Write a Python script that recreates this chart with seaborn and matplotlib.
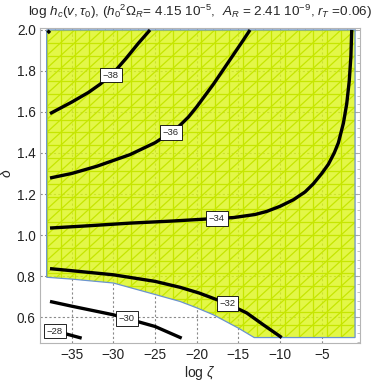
import numpy as np
import pandas as pd
import matplotlib
matplotlib.use("Agg")
import matplotlib.pyplot as plt
import seaborn as sns
from matplotlib.patches import Polygon
from matplotlib.collections import LineCollection

# contour lines of log h_c (log zeta, delta)
lev_m40_x = [-37.9, -37.6]
lev_m40_y = [1.997, 1.985]
lev_m38_x = [-37.6, -35.0, -33.0, -31.6, -30.0, -28.5, -27.0, -25.6]
lev_m38_y = [1.592, 1.648, 1.695, 1.735, 1.790, 1.860, 1.935, 2.000]
lev_m36_x = [-37.6, -35.0, -32.0, -28.0, -25.0, -23.1, -22.0, -21.0, -20.0, -18.0, -16.0,
             -14.5, -13.6]
lev_m36_y = [1.278, 1.300, 1.335, 1.392, 1.450, 1.500, 1.535, 1.575, 1.625, 1.735, 1.855,
             1.945, 2.000]
lev_m34_x = [-37.6, -33.0, -28.0, -23.0, -18.8, -15.6, -13.0, -11.6, -10.0, -8.4, -7.0,
             -6.0, -5.0, -4.2, -3.5, -3.0, -2.4, -2.0, -1.7, -1.5, -1.4]
lev_m34_y = [1.034, 1.045, 1.058, 1.068, 1.078, 1.085, 1.100, 1.115, 1.140, 1.172, 1.210,
             1.250, 1.300, 1.345, 1.400, 1.450, 1.545, 1.640, 1.750, 1.870, 2.000]
lev_m32_x = [-37.6, -35.0, -30.0, -25.0, -22.0, -19.7, -16.3, -14.0, -12.0, -9.8]
lev_m32_y = [0.836, 0.826, 0.806, 0.774, 0.745, 0.717, 0.665, 0.620, 0.562, 0.500]
lev_m30_x = [-37.6, -35.0, -30.0, -25.0, -21.8]
lev_m30_y = [0.676, 0.653, 0.611, 0.554, 0.497]
lev_m28_x = [-37.6, -36.5, -35.8, -33.8]
lev_m28_y = [0.535, 0.528, 0.519, 0.497]

levels = [-40, -38, -36, -34, -32, -30, -28]
label_x = [None, -30.3, -23.1, -17.6, -16.3, -28.4, -37.0]

# allowed region boundary
region_x = [-38.0, -1.0, -1.0, -13.1, -15.0, -18.0, -20.0, -22.0, -25.0, -30.0, -35.0, -38.0]
region_y = [2.0, 2.0, 0.5, 0.5, 0.546, 0.611, 0.645, 0.676, 0.710, 0.766, 0.785, 0.794]

xs_all = [lev_m40_x, lev_m38_x, lev_m36_x, lev_m34_x, lev_m32_x, lev_m30_x, lev_m28_x]
ys_all = [lev_m40_y, lev_m38_y, lev_m36_y, lev_m34_y, lev_m32_y, lev_m30_y, lev_m28_y]
rows = []
for lev, xx, yy in zip(levels, xs_all, ys_all):
    for i, (a, b) in enumerate(zip(xx, yy)):
        rows.append({"level": lev, "i": i, "logzeta": a, "delta": b})
df = pd.DataFrame(rows)

sns.set_style("white")
plt.rcParams["font.family"] = ["Liberation Sans", "DejaVu Sans"]
plt.rcParams["mathtext.fontset"] = "custom"
plt.rcParams["mathtext.rm"] = "Liberation Sans"
plt.rcParams["mathtext.it"] = "Liberation Sans:italic"

fig = plt.figure(figsize=(3.81, 3.82), dpi=100)
ax = fig.add_axes([0.105, 0.1008, 0.8407, 0.8251])

# grid
for gx in np.arange(-35, 0, 5):
    ax.axvline(gx, color="#8a8a8a", lw=0.8, ls=(0, (2, 2)), zorder=0.5)
for gy in np.arange(0.6, 2.01, 0.2):
    ax.axhline(gy, color="#8a8a8a", lw=0.8, ls=(0, (2, 2)), zorder=0.5)

# region fill
poly = Polygon(np.column_stack([region_x, region_y]), closed=True,
               facecolor="#dcf61a", alpha=0.8, edgecolor="none", zorder=1)
ax.add_patch(poly)

# triangle mesh texture
mx = np.linspace(-38, -1, 23)
my = np.linspace(0.5, 2.0, 25)
segs = []
for a in mx:
    segs.append([(a, 0.5), (a, 2.0)])
for b in my:
    segs.append([(-38, b), (-1, b)])
dx = mx[1] - mx[0]
for k in range(-len(my), len(mx)):
    x0 = mx[0] + k * dx
    segs.append([(x0, 0.5), (x0 + dx * (len(my) - 1), 2.0)])
lc = LineCollection(segs, colors="#c6e600", linewidths=0.9, alpha=1.0, zorder=1.2)
ax.add_collection(lc)
lc.set_clip_path(poly)

edge = Polygon(np.column_stack([region_x, region_y]), closed=True,
               facecolor="none", edgecolor="#6b94cf", lw=0.9, zorder=1.5)
ax.add_patch(edge)

# contour lines
sns.lineplot(data=df, x="logzeta", y="delta", units="level", estimator=None,
             sort=False, color="black", lw=2.4, ax=ax, zorder=3, legend=False,
             solid_joinstyle="round", solid_capstyle="butt")

# contour labels
for lev, lx, xx, yy in zip(levels, label_x, xs_all, ys_all):
    if lx is None:
        continue
    ly = np.interp(lx, xx, yy)
    ax.text(lx, ly, "\u2212%d" % abs(lev), fontsize=6.8, ha="center", va="center", zorder=4,
            bbox=dict(boxstyle="square,pad=0.3", fc="white", ec="black", lw=0.6))

ax.set_xlim(-38.8, -0.37)
ax.set_ylim(0.471, 2.008)
ax.set_xticks(np.arange(-35, 0, 5))
ax.set_yticks(np.round(np.arange(0.6, 2.01, 0.2), 1))
ax.set_yticklabels(["%.1f" % v for v in np.arange(0.6, 2.01, 0.2)])
ax.set_xticks(np.arange(-38, 0, 1), minor=True)
ax.set_yticks(np.arange(0.48, 2.01, 0.04), minor=True)
ax.tick_params(which="both", direction="in", top=True, right=True, color="#aaaaaa",
               labelsize=9.8, labelcolor="#222222", pad=3)
ax.tick_params(which="major", length=4, width=0.7)
ax.tick_params(which="minor", length=2, width=0.5)
for s in ax.spines.values():
    s.set_color("#b5b5b5")
    s.set_linewidth(0.8)
ax.set_xlabel("")
ax.set_ylabel("")

fig.text(0.525, 0.969,
         r"log $h_c(v,\tau_0)$, ($h_0{}^2\Omega_R$= 4.15 10$^{-5}$,  $A_R$ = 2.41 10$^{-9}$, $r_T$ =0.06)",
         fontsize=9.7, ha="center", va="center")
fig.text(0.525, 0.023, r"log $\zeta$", fontsize=10, ha="center", va="center")
fig.text(0.018, 0.547, r"$\delta$", fontsize=10, ha="center", va="center", rotation=90)

fig.savefig("out.png", dpi=100)
